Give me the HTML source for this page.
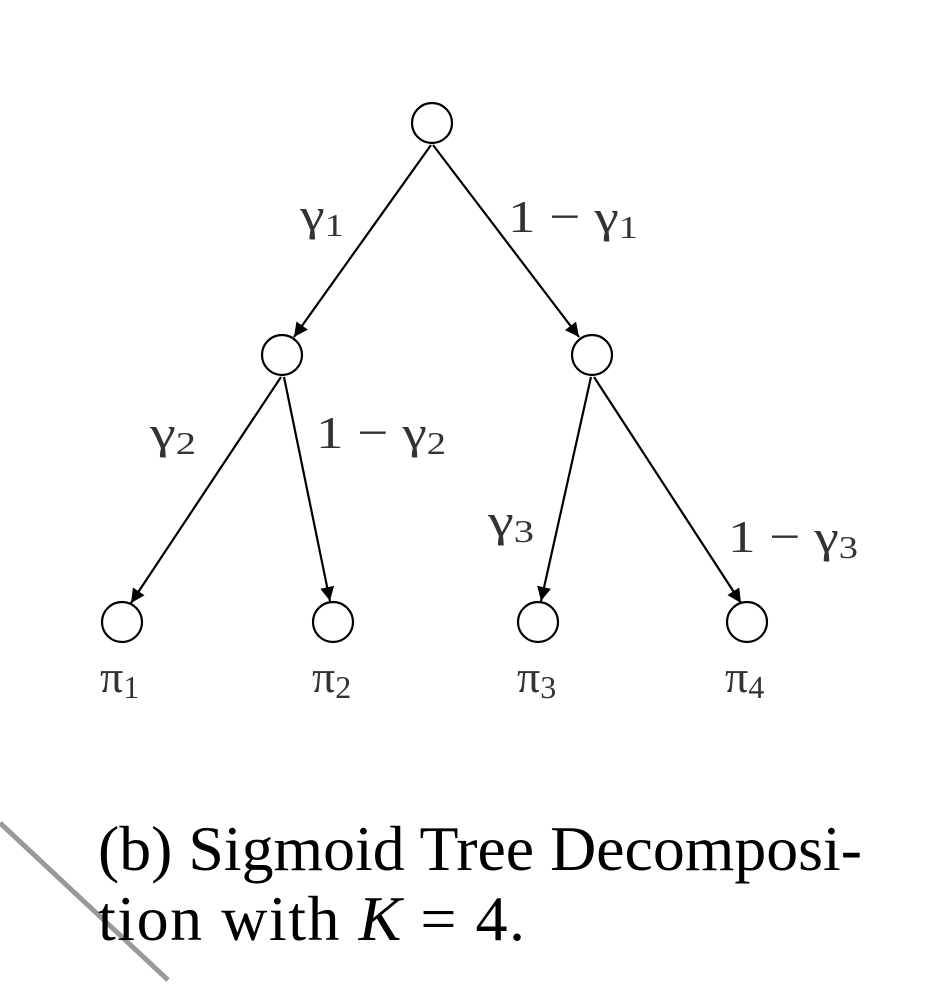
<!DOCTYPE html>
<html><head><style>
html,body{margin:0;padding:0;background:#fff;}
svg{display:block;}
.l{font-family:"Liberation Serif",serif;fill:#333;font-size:46px;}
.c{font-family:"Liberation Serif",serif;fill:#000;font-size:64px;}
</style></head><body>
<svg width="944" height="986" viewBox="0 0 944 986" xmlns="http://www.w3.org/2000/svg">
<defs>
<marker id="b" viewBox="0 0 10 10" markerWidth="16" markerHeight="14" refX="10" refY="5" orient="auto" markerUnits="userSpaceOnUse"><path d="M0,0 L10,5 L0,10 Z" fill="#000"/></marker></defs>
<line x1="0" y1="823" x2="168" y2="980" stroke="#999" stroke-width="5"/>
<g fill="none" stroke="#000" stroke-width="2.2">
<circle cx="432" cy="123" r="20"/>
<circle cx="282" cy="355" r="20"/>
<circle cx="592" cy="355" r="20"/>
<circle cx="122" cy="622" r="20"/>
<circle cx="333" cy="622" r="20"/>
<circle cx="538" cy="622" r="20"/>
<circle cx="747" cy="622" r="20"/>
<line x1="431" y1="145" x2="294" y2="337" marker-end="url(#b)"/>
<line x1="433" y1="145" x2="579" y2="337" marker-end="url(#b)"/>
<line x1="281" y1="377" x2="131" y2="603" marker-end="url(#b)"/>
<line x1="284" y1="377" x2="330" y2="601" marker-end="url(#b)"/>
<line x1="591" y1="377" x2="541" y2="601" marker-end="url(#b)"/>
<line x1="594" y1="377" x2="741" y2="603" marker-end="url(#b)"/>
</g>
<text class="l" x="300" y="230" textLength="44" lengthAdjust="spacingAndGlyphs">γ<tspan font-size="32" dy="6">1</tspan></text>
<text class="l" x="508" y="232" textLength="130" lengthAdjust="spacingAndGlyphs">1 − γ<tspan font-size="32" dy="6">1</tspan></text>
<text class="l" x="150" y="448" textLength="46" lengthAdjust="spacingAndGlyphs">γ<tspan font-size="32" dy="6">2</tspan></text>
<text class="l" x="316" y="448" textLength="130" lengthAdjust="spacingAndGlyphs">1 − γ<tspan font-size="32" dy="6">2</tspan></text>
<text class="l" x="488" y="536" textLength="46" lengthAdjust="spacingAndGlyphs">γ<tspan font-size="32" dy="6">3</tspan></text>
<text class="l" x="728" y="552" textLength="130" lengthAdjust="spacingAndGlyphs">1 − γ<tspan font-size="32" dy="6">3</tspan></text>
<text class="l" x="100" y="692">π<tspan font-size="32" dy="6">1</tspan></text>
<text class="l" x="312" y="692">π<tspan font-size="32" dy="6">2</tspan></text>
<text class="l" x="517" y="692">π<tspan font-size="32" dy="6">3</tspan></text>
<text class="l" x="725" y="692">π<tspan font-size="32" dy="6">4</tspan></text>
<text class="c" x="98" y="870" textLength="764" lengthAdjust="spacingAndGlyphs">(b) Sigmoid Tree Decomposi-</text>
<text class="c" x="98" y="940" textLength="427" lengthAdjust="spacing">tion with <tspan font-style="italic">K</tspan> = 4.</text>
</svg>
</body></html>
